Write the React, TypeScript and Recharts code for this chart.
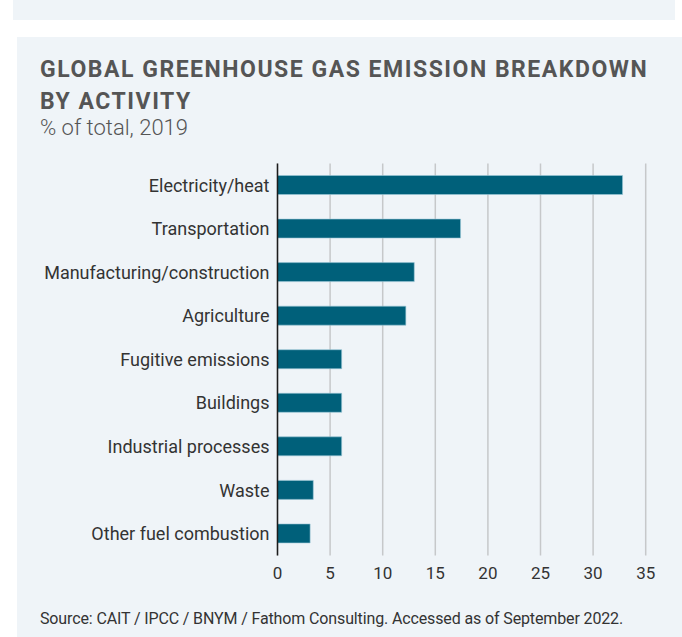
import React from "react";
import { BarChart, Bar, XAxis, YAxis, CartesianGrid } from "recharts";

const activities = [
  "Electricity/heat",
  "Transportation",
  "Manufacturing/construction",
  "Agriculture",
  "Fugitive emissions",
  "Buildings",
  "Industrial processes",
  "Waste",
  "Other fuel combustion",
];

const shares = [32.8, 17.4, 13.0, 12.2, 6.1, 6.1, 6.1, 3.4, 3.1];

const xTicks = [0, 5, 10, 15, 20, 25, 30, 35];

const data = activities.map((activity, i) => ({ activity, share: shares[i] }));

const font = "Roboto, 'Noto Sans', sans-serif";
const panelBg = "#eff4f8";

const App = () => {
  return (
    <div
      style={{
        position: "absolute",
        left: 0,
        top: 0,
        width: 682,
        height: 637,
        background: "#ffffff",
        fontFamily: font,
        overflow: "hidden",
      }}
    >
      {/* bottom of the previous panel */}
      <div
        style={{
          position: "absolute",
          left: 13,
          top: 0,
          width: 662,
          height: 20,
          background: panelBg,
        }}
      />

      <div
        style={{
          position: "absolute",
          left: 17,
          top: 37,
          width: 665,
          height: 600,
          background: panelBg,
        }}
      />

      <div
        style={{
          position: "absolute",
          left: 40,
          top: 54,
          color: "#555555",
          fontWeight: 700,
          fontSize: 23,
          letterSpacing: 1.52,
          lineHeight: "32px",
          width: 640,
          whiteSpace: "nowrap",
        }}
      >
        GLOBAL GREENHOUSE GAS EMISSION BREAKDOWN
        <br />
        BY ACTIVITY
      </div>
      <div
        style={{
          position: "absolute",
          left: 40,
          top: 115,
          color: "#555555",
          fontWeight: 300,
          fontSize: 22,
        }}
      >
        % of total, 2019
      </div>

      <div style={{ position: "absolute", left: 0, top: 140 }}>
        <BarChart
          width={682}
          height={460}
          data={data}
          layout="vertical"
          margin={{ top: 23.5, right: 36.3, left: 0, bottom: 14.5 }}
        >
          <CartesianGrid
            horizontal={false}
            stroke="#c6c8ca"
            strokeWidth={1.5}
          />
          <XAxis
            type="number"
            domain={[0, 35]}
            ticks={xTicks}
            axisLine={false}
            tickLine={false}
            tickMargin={5}
            height={30}
            tick={{ fontSize: 17, fill: "#333333", fontFamily: font }}
          />
          <YAxis
            type="category"
            dataKey="activity"
            width={277.5}
            tickLine={false}
            axisLine={{ stroke: "#1c1c1c", strokeWidth: 1.5 }}
            interval={0}
            tick={{ fontSize: 18, fill: "#333333", fontFamily: font }}
          />
          <Bar
            dataKey="share"
            fill="#00607a"
            stroke="#9cc8d6"
            strokeWidth={0.6}
            barSize={19}
            isAnimationActive={false}
          />
        </BarChart>
      </div>

      <div
        style={{
          position: "absolute",
          left: 40,
          top: 609,
          color: "#333333",
          fontSize: 16,
          letterSpacing: -0.13,
          whiteSpace: "nowrap",
        }}
      >
        Source: CAIT / IPCC / BNYM / Fathom Consulting. Accessed as of September 2022.
      </div>
    </div>
  );
};

export default App;
